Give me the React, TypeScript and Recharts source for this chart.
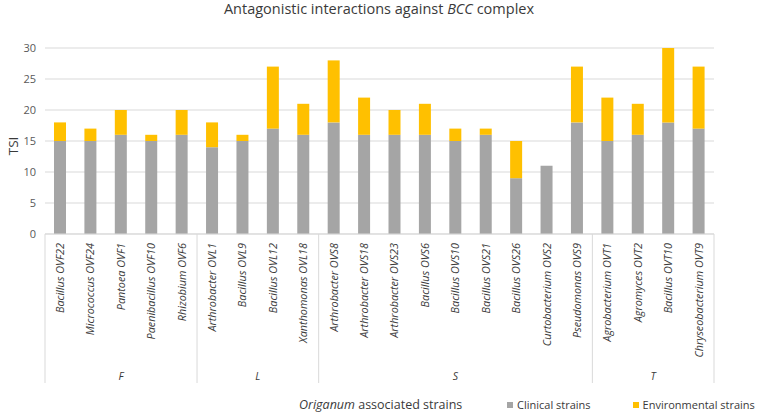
import { Bar, BarChart, CartesianGrid, XAxis, YAxis } from 'recharts';

const strains = [
  'Bacillus OVF22',
  'Micrococcus OVF24',
  'Pantoea OVF1',
  'Paenibacillus OVF10',
  'Rhizobium OVF6',
  'Arthrobacter OVL1',
  'Bacillus OVL9',
  'Bacillus OVL12',
  'Xanthomonas OVL18',
  'Arthrobacter OVS8',
  'Arthrobacter OVS18',
  'Arthrobacter OVS23',
  'Bacillus OVS6',
  'Bacillus OVS10',
  'Bacillus OVS21',
  'Bacillus OVS26',
  'Curtobacterium OVS2',
  'Pseudomonas OVS9',
  'Agrobacterium OVT1',
  'Agromyces OVT2',
  'Bacillus OVT10',
  'Chryseobacterium OVT9',
];
const clinical = [15, 15, 16, 15, 16, 14, 15, 17, 16, 18, 16, 16, 16, 15, 16, 9, 11, 18, 15, 16, 18, 17];
const environmental = [3, 2, 4, 1, 4, 4, 1, 10, 5, 10, 6, 4, 5, 2, 1, 6, 0, 9, 7, 5, 12, 10];
const groups = ['F', 'L', 'S', 'T'];
const groupSizes = [5, 4, 9, 4];
const yTicks = [0, 5, 10, 15, 20, 25, 30];

const series = [
  { key: 'clinical', name: 'Clinical strains', color: '#A5A5A5' },
  { key: 'environmental', name: 'Environmental strains', color: '#FFC000' },
];

const data = strains.map((name, i) => ({
  name,
  clinical: clinical[i],
  environmental: environmental[i],
}));

const W = 758;
const H = 412;
const MARGIN = { top: 48, right: 44, bottom: 0, left: 0 };
const Y_AXIS_W = 45;
const X_AXIS_H = 178;
const PLOT_W = W - MARGIN.left - MARGIN.right - Y_AXIS_W;
const FONT = '"Open Sans", sans-serif';

const groupStarts = groupSizes.map((_, g) =>
  groupSizes.slice(0, g).reduce((a, b) => a + b, 0),
);

function StrainTick(props: any) {
  const { x, y, payload, index } = props;
  const step = PLOT_W / strains.length;
  const axisY = y - 8;
  const g = groupStarts.indexOf(index);
  return (
    <g>
      <text
        x={x}
        y={y + 1}
        dy="0.35em"
        transform={`rotate(-90, ${x}, ${y + 1})`}
        textAnchor="end"
        fontFamily={FONT}
        fontSize={10.8}
        fontStyle="italic"
        fill="#3a3a3a"
      >
        {payload.value}
      </text>
      {g >= 0 && (
        <>
          <line
            x1={x - step / 2}
            x2={x - step / 2}
            y1={axisY}
            y2={axisY + 149}
            stroke="#d9d9d9"
          />
          <text
            x={x - step / 2 + (groupSizes[g] * step) / 2}
            y={axisY + 146}
            textAnchor="middle"
            fontFamily={FONT}
            fontSize={10.5}
            fontStyle="italic"
            fill="#3a3a3a"
          >
            {groups[g]}
          </text>
        </>
      )}
      {index === strains.length - 1 && (
        <line
          x1={x + step / 2}
          x2={x + step / 2}
          y1={axisY}
          y2={axisY + 149}
          stroke="#d9d9d9"
        />
      )}
    </g>
  );
}

export default function App() {
  return (
    <div
      style={{
        position: 'absolute',
        left: 0,
        top: 0,
        width: W,
        height: H,
        background: '#fff',
        fontFamily: FONT,
      }}
    >
      <div
        style={{
          position: 'absolute',
          top: 0,
          left: 0,
          width: W,
          textAlign: 'center',
          fontSize: 14.5,
          lineHeight: '17px',
          color: '#3a3a3a',
        }}
      >
        Antagonistic interactions against <i>BCC</i> complex
      </div>
      <div
        style={{
          position: 'absolute',
          left: 13,
          top: 146,
          transform: 'translate(-50%, -50%) rotate(-90deg)',
          fontSize: 13.5,
          color: '#3a3a3a',
          whiteSpace: 'nowrap',
        }}
      >
        TSI
      </div>
      <BarChart width={W} height={H} data={data} margin={MARGIN} barSize={12}>
        <CartesianGrid stroke="#d9d9d9" vertical={false} />
        <XAxis
          dataKey="name"
          interval={0}
          height={X_AXIS_H}
          tickSize={0}
          tickMargin={8}
          axisLine={{ stroke: '#d9d9d9' }}
          tickLine={false}
          tick={<StrainTick />}
        />
        <YAxis
          width={Y_AXIS_W}
          domain={[0, 30]}
          ticks={yTicks}
          axisLine={false}
          tickLine={false}
          tickSize={0}
          tickMargin={9}
          tick={{ fill: '#595959', fontSize: 11, fontFamily: FONT }}
        />
        {series.map((s) => (
          <Bar
            key={s.key}
            dataKey={s.key}
            name={s.name}
            stackId="tsi"
            fill={s.color}
            isAnimationActive={false}
          />
        ))}
      </BarChart>
      <div
        style={{
          position: 'absolute',
          left: 299,
          top: 396,
          fontSize: 12.5,
          lineHeight: '17px',
          color: '#3a3a3a',
          whiteSpace: 'nowrap',
        }}
      >
        <i>Origanum</i> associated strains
      </div>
      <div
        style={{
          position: 'absolute',
          left: 507,
          top: 396,
          display: 'flex',
          gap: 42,
          fontSize: 11,
          lineHeight: '17px',
          color: '#3a3a3a',
          whiteSpace: 'nowrap',
        }}
      >
        {series.map((s) => (
          <div key={s.key} style={{ display: 'flex', alignItems: 'center' }}>
            <span
              style={{
                display: 'inline-block',
                width: 6,
                height: 6,
                background: s.color,
                marginRight: 4,
              }}
            />
            {s.name}
          </div>
        ))}
      </div>
    </div>
  );
}
